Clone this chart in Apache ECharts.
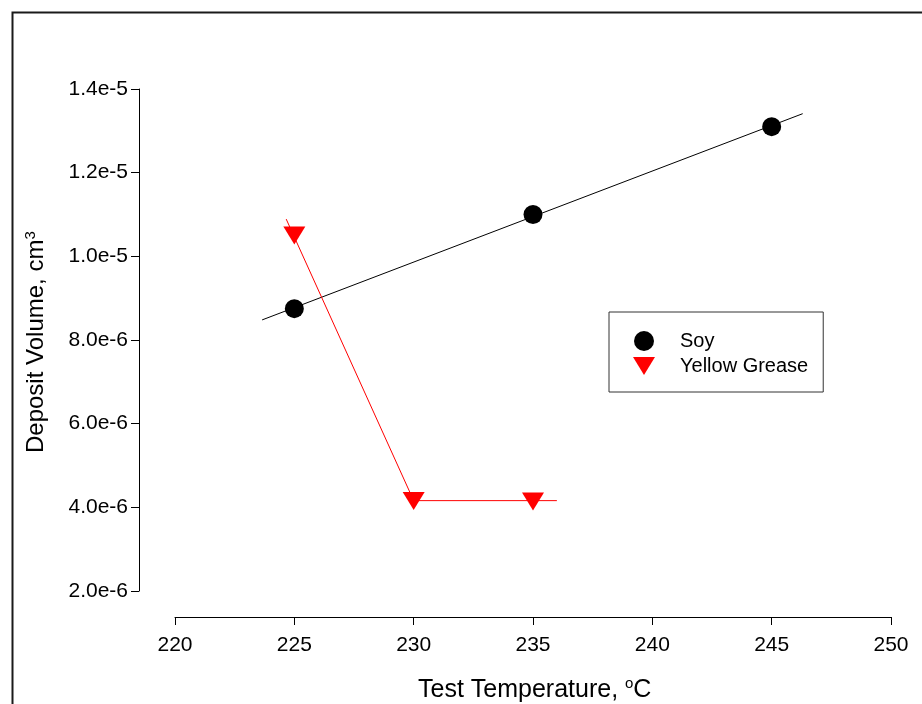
<!DOCTYPE html>
<html>
<head>
<meta charset="utf-8">
<script src="https://cdn.jsdelivr.net/npm/echarts@6/dist/echarts.min.js"></script>
<style>
html,body{margin:0;padding:0;background:#fff;}
#chart{width:922px;height:704px;}
</style>
</head>
<body>
<div id="chart"></div>
<script>
// Data
var soyX = [225, 235, 245];
var soyY = [8.75e-6, 1.10e-5, 1.31e-5];
var greaseX = [225, 230, 235];
var greaseY = [1.05e-5, 4.15e-6, 4.14e-6];
// fitted lines as drawn in the figure
var soyFitX = [223.65, 246.3];
var soyFitY = [8.48e-6, 1.341e-5];
var greaseFitX = [224.66, 230, 236.0];
var greaseFitY = [1.089e-5, 4.16e-6, 4.16e-6];
var xTicks = [220, 225, 230, 235, 240, 245, 250];
var yTicks = ['2.0e-6', '4.0e-6', '6.0e-6', '8.0e-6', '1.0e-5', '1.2e-5', '1.4e-5'];

function pairs(xs, ys) { return xs.map(function (x, i) { return [x, ys[i]]; }); }

var FONT = '"Liberation Sans", Arial, sans-serif';
var downTri = 'path://M0,0 L22,0 L11,18 Z';

var chart = echarts.init(document.getElementById('chart'), null, {renderer: 'canvas'});
chart.setOption({
  backgroundColor: '#fff',
  animation: false,
  grid: {left: 175, right: 31, top: 89, bottom: 113, containLabel: false},
  xAxis: {
    type: 'value', min: xTicks[0], max: xTicks[xTicks.length - 1], interval: 5,
    offset: 26,
    axisLine: {show: true, lineStyle: {color: '#000', width: 1}},
    axisTick: {show: true, length: 8, lineStyle: {color: '#000'}},
    splitLine: {show: false},
    axisLabel: {color: '#000', fontSize: 21, fontFamily: FONT, margin: 18}
  },
  yAxis: {
    type: 'value', min: 2e-6, max: 1.4e-5, interval: 2e-6,
    offset: 36,
    axisLine: {show: true, lineStyle: {color: '#000', width: 1}},
    axisTick: {show: true, length: 8, lineStyle: {color: '#000'}},
    splitLine: {show: false},
    axisLabel: {
      color: '#000', fontSize: 21, fontFamily: FONT, margin: 11,
      formatter: function (v) {
        var idx = Math.round((v - 2e-6) / 2e-6);
        return yTicks[idx] !== undefined ? yTicks[idx] : '';
      }
    }
  },
  legend: {
    data: ['Soy', 'Yellow Grease'],
    orient: 'vertical',
    left: 609, top: 312,
    padding: [19, 15, 16, 24],
    itemGap: 5,
    itemWidth: 22, itemHeight: 20,
    borderColor: '#333', borderWidth: 1,
    textStyle: {color: '#000', fontSize: 20, fontFamily: FONT, padding: [0, 0, 0, 20]},
    selectedMode: false
  },
  series: [
    {
      name: 'soyFit', type: 'line', data: pairs(soyFitX, soyFitY),
      showSymbol: false, symbol: 'none', silent: true,
      lineStyle: {color: '#000', width: 1}, z: 2
    },
    {
      name: 'greaseFit', type: 'line', data: pairs(greaseFitX, greaseFitY),
      showSymbol: false, symbol: 'none', silent: true,
      lineStyle: {color: '#ff0000', width: 1}, z: 2
    },
    {
      name: 'Soy', type: 'scatter', data: pairs(soyX, soyY),
      symbol: 'circle', symbolSize: 19,
      itemStyle: {color: '#000', opacity: 1}, z: 5
    },
    {
      name: 'Yellow Grease', type: 'scatter', data: pairs(greaseX, greaseY),
      symbol: downTri, symbolSize: [22, 18],
      itemStyle: {color: '#ff0000', opacity: 1}, z: 5
    }
  ],
  graphic: [
    {
      type: 'rect', left: 10, top: 10, silent: true, z: 100,
      shape: {x: 0, y: 0, width: 1000, height: 1000},
      style: {fill: 'none', stroke: '#1a1a1a', lineWidth: 2}
    },
    {
      type: 'text', left: 418, top: 676, silent: true,
      style: {
        text: 'Test Temperature, {sup|o}C',
        font: '25px ' + FONT, fill: '#000',
        rich: {sup: {fontSize: 15, padding: [0, 0, 14, 0], fontFamily: FONT}}
      }
    },
    {
      type: 'text', silent: true,
      x: 23, y: 453, rotation: Math.PI / 2,
      style: {
        text: 'Deposit Volume, cm{sup|3}',
        font: '24px ' + FONT, fill: '#000',
        rich: {sup: {fontSize: 15, padding: [0, 0, 12, 0], fontFamily: FONT}}
      }
    }
  ]
});
</script>
</body>
</html>
